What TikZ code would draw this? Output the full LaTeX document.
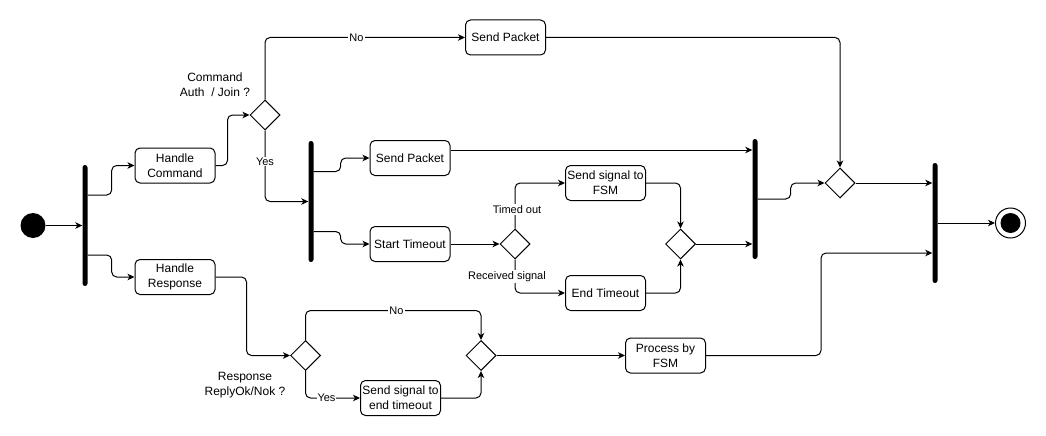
\documentclass[tikz,border=0pt]{standalone}
\usepackage{fontspec}
\setmainfont{Liberation Sans}
\usepackage{tikz}
\usetikzlibrary{arrows.meta,positioning,calc,shapes.geometric}
\tikzset{act/.style={rectangle, rounded corners=5pt, minimum width=80pt, minimum height=35pt, draw=black, line width=1pt, fill=white, inner sep=1pt, align=center, font=\fontsize{12}{15}\selectfont}}
\tikzset{choice/.style={diamond, draw=black, line width=1pt, fill=white, minimum width=30pt, minimum height=30pt, inner sep=0pt}}
\tikzset{bar/.style={rectangle, fill=black, minimum width=5pt, minimum height=120pt, inner sep=0pt, rounded corners=2.5pt}}
\tikzset{flow/.style={line width=1pt, rounded corners=5pt, -{Stealth[length=7pt,width=6.5pt,inset=2pt]}}}
\tikzset{lbl/.style={fill=white, inner sep=1pt, align=center, font=\fontsize{11}{14}\selectfont}}
\tikzset{query/.style={align=center, inner sep=1pt, font=\fontsize{12}{15}\selectfont}}

\begin{document}
\begin{tikzpicture}[x=1pt,y=-1pt]
		\useasboundingbox (0,0) rectangle (1046,436);
		% start and first fork
		\node[circle, fill=black, minimum size=25pt, inner sep=0pt] (start) at (33,225.5) {};
		\node[bar, minimum height=121pt] (fork1) at (85,225.5) {};
		\node[act] (hcmd) at (175,165.5) {Handle\\Command};
		\node[act] (hresp) at (175,277) {Handle\\Response};
		% command branch
		\node[choice] (dcmd) at (265,115) {};
		\node[query] (qcmd) at (215,85) {Command\\Auth\ \ / Join ?};
		\node[act] (sp1) at (505.5,37.5) {Send Packet};
		\node[bar, minimum height=121pt] (fork2) at (311,201.5) {};
		\node[act] (sp2) at (410,158) {Send Packet};
		\node[act] (stt) at (410,244) {Start Timeout};
		\node[choice] (dto) at (515,244) {};
		\node[act] (sfsm) at (605.5,183) {Send signal to\\FSM};
		\node[act] (ett) at (605.5,293) {End Timeout};
		\node[choice] (mto) at (680.5,244) {};
		\node[bar] (join1) at (755,199) {};
		\node[choice] (dsend) at (840,183) {};
		\node[bar] (join2) at (935,223) {};
		\node[circle, draw=black, line width=1pt, minimum size=30pt, inner sep=0pt,
			path picture={\fill (path picture bounding box.center) circle (10pt);}] (stop) at (1010.5,223) {};
		% response branch
		\node[choice] (dres) at (305.5,355.5) {};
		\node[query] (qres) at (245,385.5) {Response\\ReplyOk/Nok ?};
		\node[act] (ssend) at (400.5,398) {Send signal to\\end timeout};
		\node[choice] (mres) at (481,355.5) {};
		\node[act] (pfsm) at (665.5,355.5) {Process by\\FSM};
		\coordinate (sp2out) at ([yshift=8pt]sp2.east);

		\draw[flow] (start.east) -- (start.east -| fork1.west);
		\draw[flow] ([yshift=30.5pt]fork1.east) -- ++(24,0) |- (hcmd.west);
		\draw[flow] ([yshift=-29.5pt]fork1.east) -- ++(24,0) |- (hresp.west);
		\draw[flow] (hcmd.east) -- ++(12,0) |- (dcmd.west);
		\draw[flow] (dcmd.north) |- (sp1.west);
		\draw[flow] (sp1.east) -| (dsend.north);
		\draw[flow] (dcmd.south) |- (fork2.west);
		\draw[flow] ([yshift=30pt]fork2.east) -- ++(27,0) |- (sp2.west);
		\draw[flow] ([yshift=-30pt]fork2.east) -- ++(27,0) |- (stt.west);
		\draw[flow] (sp2out) -- (sp2out -| join1.west);
		\draw[flow] (stt.east) -- (dto.west);
		\draw[flow] (dto.north) |- (sfsm.west);
		\draw[flow] (dto.south) |- (ett.west);
		\draw[flow] (sfsm.east) -| (mto.north);
		\draw[flow] (ett.east) -| (mto.south);
		\draw[flow] (mto.east) -- (mto.east -| join1.west);
		\draw[flow] (join1.east) -- ++(33,0) |- (dsend.west);
		\draw[flow] (dsend.east) -- (dsend.east -| join2.west);
		\draw[flow] (join2.east) -- (stop.west);
		\draw[flow] (hresp.east) -- ++(31,0) |- (dres.west);
		\draw[flow] (dres.north) -- ++(0,-29.5) -| (mres.north);
		\draw[flow] (dres.south) |- (ssend.west);
		\draw[flow] (ssend.east) -| (mres.south);
		\draw[flow] (mres.east) -- (pfsm.west);
		\draw[flow] (pfsm.east) -- ++(115,0) |- ([yshift=-30pt]join2.west);

		% edge labels
		\node[lbl] (no1) at (356.5,38) {No};
		\node[lbl] (yes1) at (265,161.5) {Yes};
		\node[lbl] (tout) at (517,209.5) {Timed out};
		\node[lbl] (rsig) at (507,276.5) {Received signal};
		\node[lbl] (no2) at (396.5,311) {No};
		\node[lbl] (yes2) at (326.5,398) {Yes};
\end{tikzpicture}
\end{document}
